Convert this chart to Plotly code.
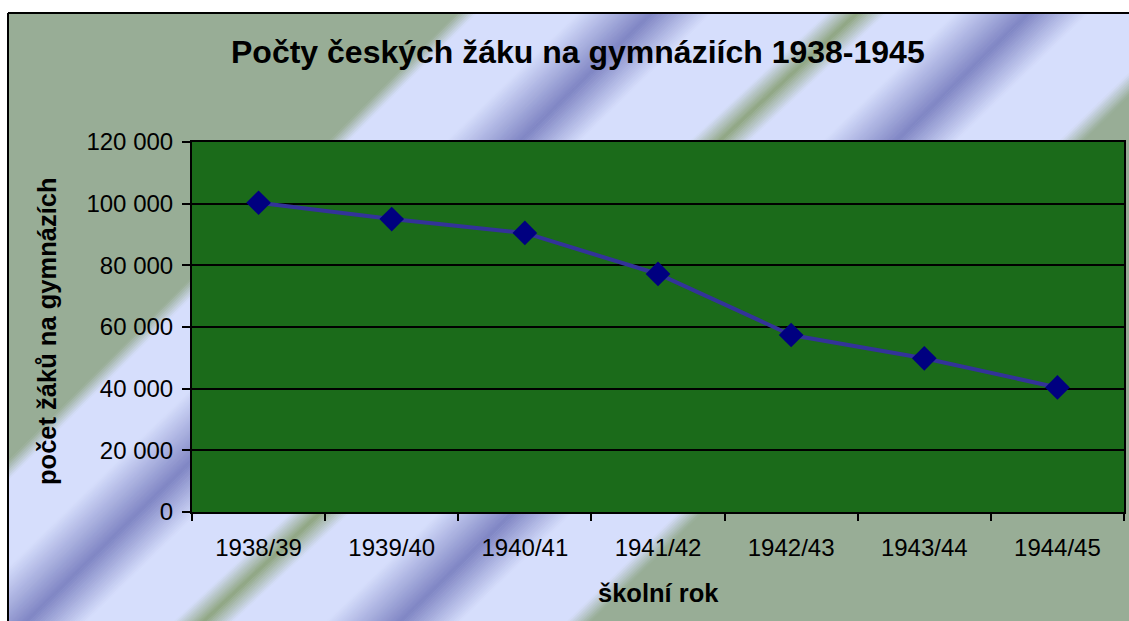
import plotly.graph_objects as go

# ---------------- data ----------------
chart_title = "Počty českých žáku na gymnáziích 1938-1945"
x_axis_title = "školní rok"
y_axis_title = "počet žáků na gymnázích"
school_years = ["1938/39", "1939/40", "1940/41", "1941/42", "1942/43", "1943/44", "1944/45"]
pupils = [100300, 95000, 90500, 77200, 57400, 49850, 40400]

# ---------------- geometry (pixels) ----------------
W, H = 1129, 621
PL, PR, PT, PB = 192, 1124, 142, 512
FONT = "Liberation Sans, Arial, sans-serif"


def px(x):
    return (x - PL) / (PR - PL)


def py(y):
    return (PB - y) / (PB - PT)


def path(points):
    return "M " + " L ".join(f"{px(x):.5f},{py(y):.5f}" for x, y in points) + " Z"


# ---------------- background gradient ("Fog"-like diagonal stripes) ----------------
G = (152, 173, 150)
LV = (214, 222, 252)
BL = (128, 134, 196)
GS = (143, 166, 130)

gray1 = (480, 478)
blue1 = (665, 648)
green = (870, 825)
blue2 = (1042, 1022)
gray2 = (1215, 1200)


def off(f, d):
    return (f[0] + d, f[1] + d)


stops = [
    ((-3000, -3000), G),
    (off(gray1, -10), G),
    (off(gray1, 10), LV),
    (off(blue1, -75), LV),
    (blue1, BL),
    (off(blue1, 60), LV),
    (off(green, -30), LV),
    (green, GS),
    (off(green, 30), LV),
    (off(blue2, -75), LV),
    (blue2, BL),
    (off(blue2, 60), LV),
    (off(gray2, -12), LV),
    (off(gray2, 12), G),
    ((4000, 4000), G),
]

YT, YB = 13, 621
shapes = []


def quad(at, ab, bt, bb, col):
    pts = [(at - YT, YT), (bt - YT + 1.0, YT), (bb - YB + 1.0, YB), (ab - YB, YB)]
    shapes.append(dict(type="path", xref="paper", yref="paper", path=path(pts),
                       fillcolor="rgb(%d,%d,%d)" % col, line=dict(width=0), layer="below"))


for (a, ca), (b, cb) in zip(stops[:-1], stops[1:]):
    if ca == cb:
        quad(a[0], a[1], b[0], b[1], ca)
        continue
    n = max(1, int(max(b[0] - a[0], b[1] - a[1]) / 2.5))
    for k in range(n):
        f0, f1 = k / n, (k + 1) / n
        fm = (f0 + f1) / 2
        col = tuple(round(ca[i] + (cb[i] - ca[i]) * fm) for i in range(3))
        quad(a[0] + (b[0] - a[0]) * f0, a[1] + (b[1] - a[1]) * f0,
             a[0] + (b[0] - a[0]) * f1, a[1] + (b[1] - a[1]) * f1, col)

# white outside the chart area (left and top)
shapes.append(dict(type="rect", xref="paper", yref="paper", x0=px(-50), x1=px(8), y0=py(700), y1=py(-50),
                   fillcolor="white", line=dict(width=0), layer="below"))
shapes.append(dict(type="rect", xref="paper", yref="paper", x0=px(-50), x1=px(1300), y0=py(13), y1=py(-50),
                   fillcolor="white", line=dict(width=0), layer="below"))
# chart area border
shapes.append(dict(type="line", xref="paper", yref="paper", x0=px(8), x1=px(8), y0=py(13), y1=py(700),
                   line=dict(color="black", width=2), layer="below"))
shapes.append(dict(type="line", xref="paper", yref="paper", x0=px(8), x1=px(1300), y0=py(13), y1=py(13),
                   line=dict(color="black", width=2), layer="below"))
# plot area fill
shapes.append(dict(type="rect", xref="paper", yref="paper", x0=0, x1=1, y0=0, y1=1,
                   fillcolor="#1B6B1A", line=dict(width=0), layer="below"))

# ---------------- figure ----------------
fig = go.Figure()
fig.add_trace(go.Scatter(
    x=school_years, y=pupils, mode="lines+markers",
    line=dict(color="#333399", width=4),
    marker=dict(symbol="diamond", size=19, color="#000080", line=dict(width=0)),
    cliponaxis=False, showlegend=False, hoverinfo="x+y",
))

fig.update_layout(
    template="none",
    width=W, height=H,
    margin=dict(l=PL, r=W - PR, t=PT, b=H - PB, pad=0),
    paper_bgcolor="white",
    plot_bgcolor="rgba(0,0,0,0)",
    separators=", ",
    font=dict(family=FONT, color="black", size=24),
    shapes=shapes,
    showlegend=False,
    xaxis=dict(
        type="category", range=[-0.5, 6.5], tickson="boundaries",
        ticks="outside", ticklen=7, tickwidth=2, tickcolor="black",
        showline=True, linecolor="black", linewidth=2, mirror=True,
        showgrid=False, zeroline=False, automargin=False,
        tickfont=dict(family=FONT, size=24, color="black"),
        ticklabelstandoff=13,
    ),
    yaxis=dict(
        range=[0, 120000], tick0=0, dtick=20000, tickformat=",d",
        ticks="outside", ticklen=8, tickwidth=2, tickcolor="black",
        showline=True, linecolor="black", linewidth=2, mirror=True,
        showgrid=True, gridcolor="black", gridwidth=2, zeroline=False, automargin=False,
        tickfont=dict(family=FONT, size=24, color="black"),
        ticklabelstandoff=4,
    ),
    annotations=[
        dict(text=chart_title, xref="paper", yref="paper", x=px(577.5), y=py(52),
             xanchor="center", yanchor="middle", showarrow=False,
             font=dict(family=FONT, size=32, color="black", weight="bold")),
        dict(text=x_axis_title, xref="paper", yref="paper", x=px(658), y=py(593),
             xanchor="center", yanchor="middle", showarrow=False,
             font=dict(family=FONT, size=25.5, color="black", weight="bold")),
        dict(text=y_axis_title, xref="paper", yref="paper", x=px(47), y=py(331),
             xanchor="center", yanchor="middle", showarrow=False, textangle=-90,
             font=dict(family=FONT, size=25.5, color="black", weight="bold")),
    ],
)

fig.write_html("out.html", config={"displayModeBar": False},
               post_script="document.body.style.margin='0px';document.body.style.overflow='hidden';")
